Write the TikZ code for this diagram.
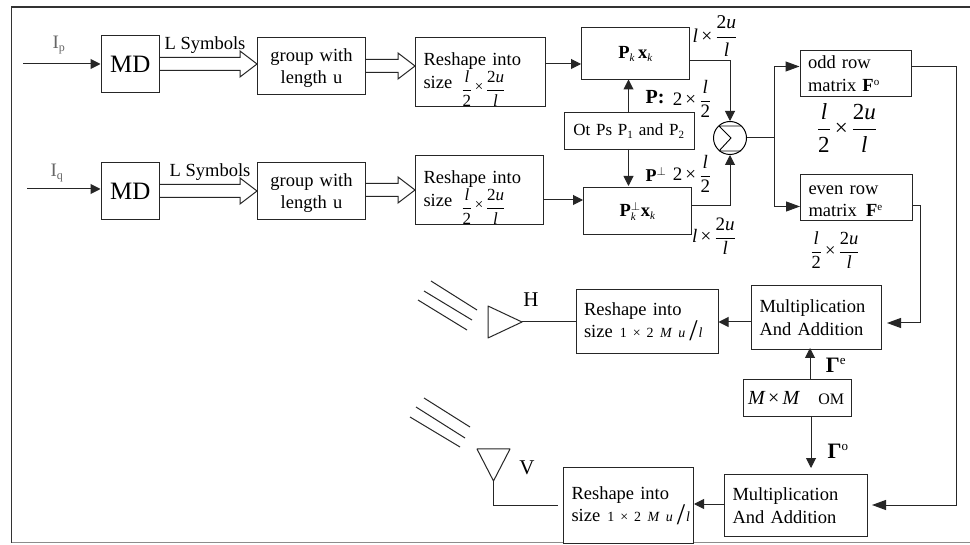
\documentclass[tikz,border=0pt]{standalone}
\usepackage{fontspec}
\setmainfont{Liberation Serif}
\usetikzlibrary{arrows.meta,calc}
\newcommand\fs[1]{\fontsize{#1}{#1}\selectfont}
\newcommand\fl[1]{\fontsize{#1}{22.5}\selectfont}
\newcommand\fr[2]{$\displaystyle\frac{\hbox{#1}}{\hbox{#2}}$}
\newcommand\il{{\itshape l}}
\newcommand\iu{{\itshape u}}
\newcommand\tm{\,×\,}
\newcommand\hollow[3]{\draw[conn] ($(#1.east|-0,#3)+(0,-6.5)$) -- ($(#2.west|-0,#3)+(-17,-6.5)$) -- ++(0,-6.5) -- (#2.west|-0,#3) -- ($(#2.west|-0,#3)+(-17,13)$) -- ++(0,-6.5) -- ($(#1.east|-0,#3)+(0,6.5)$);}
\newcommand\sizeline{\mbox{size\,{\fs{14}\hspace{4pt}1\hspace{6pt}×\hspace{6pt}2\hspace{6.5pt}{\itshape M\hspace{6.5pt}u}\hspace{4pt}\raisebox{-3pt}{\fs{30}/}\hspace{1pt}{\itshape l}}}}
\newcommand\fracline{\mbox{size \,\raisebox{-6pt}{\smash{\fs{17}\fr{\il}{2}}}\raisebox{-3pt}{\smash{\fs{15}\,×\,}}\raisebox{-6pt}{\smash{\fs{17}\fr{2\iu}{\il}}}}}
\newcommand\up[1]{\rule{0pt}{#1pt}}
\tikzset{
 box/.style={draw=black!85,line width=1pt,fill=white,font=\fl{18.5},align=left,inner sep=0pt,anchor=north west},
 conn/.style={draw=black!85,line width=1pt},
 arr/.style={conn,-{Triangle[length=10pt,width=10pt]}},
 arl/.style={conn,-{Triangle[length=14pt,width=10pt]}},
 lab/.style={inner sep=0pt,font=\fs{18.5}},
}
\newcommand\bx[7][]{\node[box,minimum width=#4-#3,minimum height=#6-#5,text width=#4-#3-16,#1] (#2) at (#3,#5) {#7};}
\begin{document}
\begin{tikzpicture}[x=1pt,y=-1pt]
\useasboundingbox (0,0) rectangle (970,545);
\fill[white] (0,0) rectangle (970,545);
\draw[black!80,line width=1.4pt] (970,7) -- (11.5,7) -- (11.5,542.5);
\draw[black!45,line width=1.2pt] (11.5,542.5) -- (970,542.5);
\bx[align=center,font=\fs{25}]{mdA}{100.5}{159}{35}{92}{MD}
\bx[align=center]{grA}{257}{365}{37}{94}{\up{17}group with\\length u}
\bx[align=center,font=\fs{25}]{mdB}{100.5}{159}{162}{219}{MD}
\bx[align=center]{grB}{257}{365}{162}{219}{\up{17}group with\\length u}
\bx{reA}{415}{545}{37}{106}{\up{16}Reshape into\\\fracline}
\bx{reB}{415}{543}{155}{224}{\up{16}Reshape into\\\fracline}
\bx[align=center]{pA}{581}{689}{27}{79.5}{\textbf{P}$_{\hbox{\fs{11}\itshape k}}$\,\textbf{x}$_{\hbox{\fs{11}\itshape k}}$}
\bx[align=center]{pB}{583}{691}{187.5}{234}{\textbf{P}$^{\perp}_{\hbox{\fs{11}\itshape k}}$\textbf{x}$_{\hbox{\fs{11}\itshape k}}$}
\bx[align=center,font=\fs{17}]{ot}{563.5}{693.5}{112.5}{149}{Ot Ps P$_{\hbox{\fs{11}1}}$ and P$_{\hbox{\fs{11}2}}$}
\node[circle,draw=black,line width=1pt,minimum size=33pt,inner sep=0pt] (sum) at (730,138) {};
\draw[black,line width=.9pt] (719,126) -- (741,126) (719,126) -- (731,138) -- (719,151) (719,151) -- (741,151);
\bx{odd}{799.5}{911}{50}{96.5}{odd row\\matrix \textbf{F}$^{\hbox{\fs{11}o}}$}
\bx{even}{800}{912}{174.5}{220.5}{\up{15}even row\\matrix\, \textbf{F}$^{\hbox{\fs{11}e}}$}
\bx{maA}{751}{881}{285}{349}{Multiplication\\And Addition}
\bx{maB}{724}{866.5}{474}{536}{Multiplication\\And Addition}
\bx{reC}{575.5}{717.5}{289}{353}{Reshape into\\\sizeline}
\bx{reD}{563}{693}{467}{543}{Reshape into\\\sizeline}
\bx[align=center,font=\fs{20}]{om}{742.5}{850.5}{379}{416}{\mbox{\hspace{-3pt}{\itshape M}\,×\,{\itshape M}\hspace{19pt}{\fs{16}OM}}}
% inputs
\node[lab,text=black!60,font=\fs{19}] (ip) at (59,45) {I$_{\hbox{\fs{12}p}}$};
\node[lab,text=black!60,font=\fs{19}] (iq) at (57,173) {I$_{\hbox{\fs{12}q}}$};
\coordinate (inA) at (23,64); \coordinate (inB) at (27,189);
\draw[arr] (inA) -- (mdA.west|-inA);
\draw[arr] (inB) -- (mdB.west|-inB);
\node[lab] (lsA) at (205,45) {L Symbols};
\node[lab] (lsB) at (210,172) {L Symbols};
\hollow{mdA}{grA}{64}
\hollow{mdB}{grB}{191}
\hollow{grA}{reA}{66}
\hollow{grB}{reB}{190}
\draw[arr] (reA.east|-0,64) -- (pA.west|-0,64);
\draw[arr] (reB.east|-0,200) -- (pB.west|-0,200);
\draw[arr] (628.5,112.5) -- (628.5,79.5);
\draw[arr] (628.5,149) -- (628.5,186);
\draw[arr] (pA.east|-0,61) -| (sum.north);
\draw[arr] (pB.east|-0,206) -| (sum.south);
\coordinate (sp) at (774,138);
\draw[conn] (sum.east) -- (sp);
\draw[arl] (sp) |- (odd.west|-0,66.5);
\draw[arl] (sp) |- (even.west|-0,206.5);
\coordinate (oe) at (872,505);
\coordinate (ee) at (887,323);
\draw[arl] (odd.east|-0,66.5) -- (956.5,66.5) -- (956.5,505) -- (oe);
\draw[arl] (even.east|-0,206) -- (920.5,206) -- (920.5,323) -- (ee);
\draw[arr] (maA.west|-0,322) -- (reC.east|-0,322);
\draw[arr] (maB.west|-0,504) -- (reD.east|-0,504);
\draw[arr] (810,379) -- (810,348);
\draw[arr] (811,416) -- (811,468);
% antennas
\draw[conn,line join=round] (488,306) -- (488,338) -- (522,322) -- cycle;
\draw[conn] (522,322) -- (reC.west|-0,322);
\draw[conn,line join=round] (477,449) -- (510,449) -- (493.5,481) -- cycle;
\draw[conn] (493.5,481) |- (558,505);
\draw[conn] (431,281) -- (477,310) (424,291) -- (472,320) (418,300) -- (467,330);
\draw[conn] (424,398) -- (470,427) (416,407) -- (465,438) (410,417) -- (460,447);
\node[lab,font=\fs{21}] (hl) at (531,300) {H};
\node[lab,font=\fs{21}] (vl) at (527,468) {V};
\node[lab,font=\fs{22}] (ge) at (836,365) {\textbf{Γ}$^{\hbox{\fs{13}e}}$};
\node[lab,font=\fs{22}] (go) at (838,451) {\textbf{Γ}$^{\hbox{\fs{13}o}}$};
% dimension labels
\node[lab,font=\fs{19.5}] (d1) at (715,36) {\il\tm\fr{2\iu}{\il}};
\node[lab,font=\fs{19}] (d2) at (714,236) {\il\tm\fr{2\iu}{\il}};
\node[lab,font=\fs{20}] (pl) at (655,97) {\textbf{P:}};
\node[lab,font=\fs{19}] (d3) at (692,99) {2\tm\fr{\il}{2}};
\node[lab,font=\fs{18}] (pp) at (656,174) {\textbf{P}$^{\perp}$};
\node[lab,font=\fs{19}] (d4) at (692,174) {2\tm\fr{\il}{2}};
\node[lab,font=\fs{23}] (d5) at (847,128) {\fr{\il}{2}\tm\fr{2\iu}{\il}};
\node[lab,font=\fs{18.5}] (d6) at (835,250) {\fr{\il}{2}\tm\fr{2\iu}{\il}};
\end{tikzpicture}
\end{document}
